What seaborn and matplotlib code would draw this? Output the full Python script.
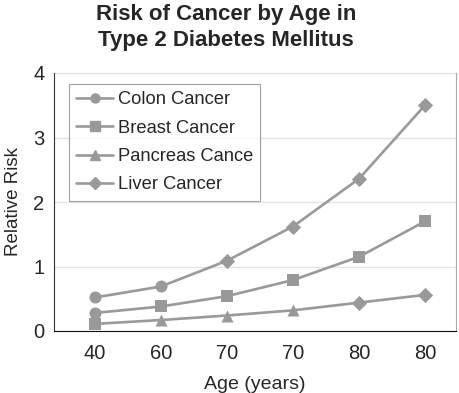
import matplotlib
matplotlib.use("Agg")
import matplotlib.pyplot as plt
from matplotlib.lines import Line2D
import pandas as pd
import seaborn as sns

# x categories as printed on the axis
ages = ["40", "60", "70", "70", "80", "80"]

# the three drawn curves
upper_vals = [0.52, 0.69, 1.09, 1.62, 2.36, 3.50]
middle_vals = [0.28, 0.38, 0.54, 0.79, 1.15, 1.70]
lower_vals = [0.11, 0.17, 0.24, 0.32, 0.44, 0.56]

# marker shown at each point of each curve
upper_marks = ["circle", "circle", "diamond", "diamond", "diamond", "diamond"]
middle_marks = ["circle", "square", "square", "square", "square", "square"]
lower_marks = ["square", "triangle", "triangle", "triangle", "diamond", "diamond"]

legend_labels = ["Colon Cancer", "Breast Cancer", "Pancreas Cance", "Liver Cancer"]
legend_marks = ["circle", "square", "triangle", "diamond"]

marker_map = {"circle": "o", "square": "s", "triangle": "^", "diamond": "D"}
msize = {"circle": 75, "square": 65, "triangle": 75, "diamond": 60}
gray = "#999999"

rows = []
for name, vals, marks in [("upper", upper_vals, upper_marks),
                          ("middle", middle_vals, middle_marks),
                          ("lower", lower_vals, lower_marks)]:
    for i, (v, m) in enumerate(zip(vals, marks)):
        rows.append([name, i, v, m])
df = pd.DataFrame(rows, columns=["curve", "pos", "risk", "mark"])

sns.set_style("white")
plt.rcParams["font.family"] = ["Liberation Sans", "DejaVu Sans"]

fig = plt.figure(figsize=(4.59, 3.93), dpi=100)
ax = fig.add_axes([54 / 459, 62 / 393, 402 / 459, 258 / 393])

for c in ["upper", "middle", "lower"]:
    sns.lineplot(data=df[df.curve == c], x="pos", y="risk", color=gray,
                 linewidth=1.9, ax=ax, zorder=2)

for m in legend_marks:
    sub = df[df.mark == m]
    if len(sub):
        sns.scatterplot(data=sub, x="pos", y="risk", marker=marker_map[m],
                        s=msize[m], color=gray, edgecolor=gray, linewidth=0,
                        ax=ax, zorder=3, legend=False)

ax.set_xlim(-0.62, 5.47)
ax.set_ylim(0, 4)
ax.set_xticks(range(len(ages)))
ax.set_xticklabels(ages)
ax.set_yticks([0, 1, 2, 3, 4])
ax.tick_params(axis="x", labelsize=14.5, direction="inout", length=5, width=1, pad=7)
ax.tick_params(axis="y", labelsize=14.5, length=0, pad=7)
ax.yaxis.grid(True, color="#e2e2e2", linewidth=1)
ax.set_axisbelow(True)

ax.spines["top"].set_visible(False)
ax.spines["right"].set_color("#aaaaaa")
ax.spines["left"].set_color("#333333")
ax.spines["bottom"].set_color("#111111")

ax.set_xlabel("Age (years)", fontsize=14, labelpad=9)
ax.set_ylabel("Relative Risk", fontsize=13.5, labelpad=8)

handles = [Line2D([0], [0], color=gray, linewidth=1.9, marker=marker_map[m],
                  markersize=6.5, markerfacecolor=gray, markeredgecolor=gray)
           for m in legend_marks]
leg = ax.legend(handles, legend_labels, loc="upper left",
                bbox_to_anchor=(15 / 402, 247 / 258), fontsize=13.2,
                frameon=True, fancybox=False, edgecolor="#888888",
                handlelength=2.0, handletextpad=0.25, labelspacing=0.62,
                borderpad=0.4, borderaxespad=0)
leg.get_frame().set_linewidth(0.8)

fig.text(0.492, 0.99, "Risk of Cancer by Age in\nType 2 Diabetes Mellitus",
         ha="center", va="top", fontsize=16, fontweight="bold", linespacing=1.3)

fig.savefig("out.png", dpi=100)
